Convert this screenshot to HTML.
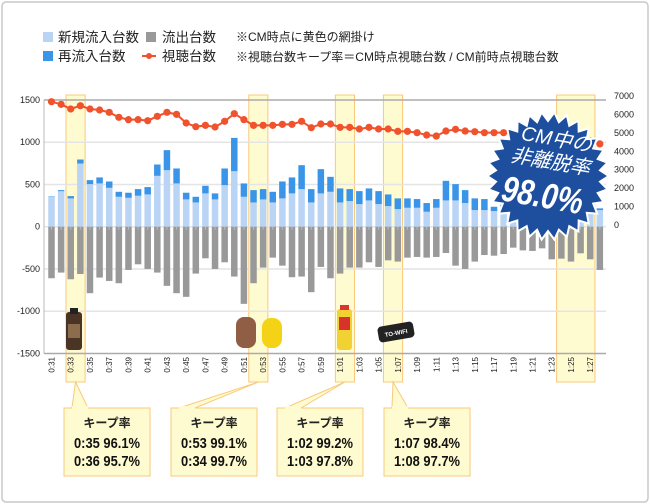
<!DOCTYPE html>
<html><head><meta charset="utf-8"><style>
body{margin:0;background:#fff;}
svg{display:block;font-family:"Liberation Sans","Noto Sans CJK JP",sans-serif;}
</style></head><body>
<svg id="c" width="650" height="504" viewBox="0 0 650 504" xmlns="http://www.w3.org/2000/svg">
<rect x="2" y="2" width="646" height="500" rx="4" fill="#fff" stroke="#c8c8c8" stroke-width="1.5"/>
<g font-size="13.5" fill="#222">
<rect x="43" y="32" width="10" height="10" fill="#b9d4f5"/>
<text x="58" y="42">新規流入台数</text>
<rect x="43" y="51" width="10" height="10" fill="#3a95e8"/>
<text x="58" y="61">再流入台数</text>
<rect x="146" y="32" width="10" height="10" fill="#999"/>
<text x="162" y="42">流出台数</text>
<line x1="142" y1="56" x2="156" y2="56" stroke="#f0522d" stroke-width="2"/>
<circle cx="149" cy="56" r="3" fill="#f0522d"/>
<text x="162" y="61">視聴台数</text>
<text x="236" y="41" font-size="12">※CM時点に黄色の網掛け</text>
<text x="236" y="61" font-size="12">※視聴台数キープ率＝CM時点視聴台数 / CM前時点視聴台数</text>
</g>
<g id="hl"></g>
<g id="grid"></g>
<g id="bars"></g>
<g id="line"></g>
<g id="axes"></g>
<g>
<rect x="66" y="312" width="16" height="38" rx="3" fill="#4a3426"/>
<rect x="70" y="308" width="8" height="6" fill="#222"/>
<rect x="68" y="324" width="12" height="14" fill="#8b6d4e"/>
<rect x="236" y="317" width="20" height="31" rx="8" fill="#8f5e44"/>
<rect x="262" y="318" width="20" height="30" rx="9" fill="#f4d316"/>
<rect x="337" y="309" width="15" height="41" rx="3" fill="#f2d232"/>
<rect x="339" y="317" width="11" height="13" fill="#d8322a"/>
<rect x="340" y="305" width="9" height="5" fill="#d33"/>
<g transform="rotate(-10 396 332)"><rect x="378" y="324" width="36" height="16" rx="4" fill="#222"/><text x="396" y="335" font-size="6" fill="#fff" text-anchor="middle" font-weight="bold">TO-WIFI</text></g>
</g>
<g id="callouts"></g>
<g>
<polygon id="star" fill="#1d4f9e" stroke="#fff" stroke-width="2"/>
<g transform="rotate(10 548 176)" fill="#fff" text-anchor="middle" font-style="italic">
<text x="550" y="145" font-size="20">CM中の</text>
<text x="548" y="168" font-size="20">非離脱率</text>
<text x="546" y="208" font-size="36" font-weight="bold" textLength="82" lengthAdjust="spacingAndGlyphs">98.0%</text>
</g>
</g>
</svg>
<script>
const times = ["0:31","0:32","0:33","0:34","0:35","0:36","0:37","0:38","0:39","0:40","0:41","0:42","0:43","0:44","0:45","0:46","0:47","0:48","0:49","0:50","0:51","0:52","0:53","0:54","0:55","0:56","0:57","0:58","0:59","1:00","1:01","1:02","1:03","1:04","1:05","1:06","1:07","1:08","1:09","1:10","1:11","1:12","1:13","1:14","1:15","1:16","1:17","1:18","1:19","1:20","1:21","1:22","1:23","1:24","1:25","1:26","1:27","1:28"];
const newInflow = [355,420,335,748,504,512,460,354,342,366,382,602,669,512,323,287,394,323,492,657,354,287,323,287,335,394,445,287,394,413,287,303,268,311,268,244,209,224,224,177,224,311,311,280,197,197,185,180,180,175,170,170,175,180,180,175,175,197];
const reInflow = [5,13,27,47,47,71,75,59,60,79,87,134,237,177,79,67,90,71,197,394,158,146,122,126,200,189,283,158,287,177,166,142,153,142,153,138,126,111,103,103,103,232,193,153,138,130,51,80,80,80,75,75,80,80,80,75,75,20];
const outflow = [-610,-543,-622,-560,-787,-602,-642,-669,-512,-445,-500,-543,-700,-787,-830,-555,-374,-500,-421,-590,-913,-669,-484,-366,-461,-598,-590,-775,-476,-610,-555,-484,-484,-421,-476,-398,-413,-366,-358,-366,-358,-311,-461,-500,-413,-335,-343,-323,-248,-280,-287,-256,-386,-378,-413,-315,-386,-512];
const viewers = [6690,6547,6294,6475,6294,6240,6113,5842,5716,5716,5661,5896,6113,6004,5534,5335,5407,5317,5625,6040,5716,5407,5407,5407,5462,5462,5625,5280,5480,5480,5298,5298,5208,5298,5208,5208,5081,5081,5009,4882,4828,5099,5190,5099,5063,5009,5009,5009,4950,4900,4850,4800,4750,4700,4650,4600,4550,4400];
const leftTicks = [1500,1000,500,0,-500,-1000,-1500];
const rightTicks = [7000,6000,5000,4000,3000,2000,1000,0];
const highlightRanges = [[2,3],[21,22],[30,31],[35,36],[53,56]];
const calloutTitle = "キープ率";
const calloutLines = [["0:35  96.1%","0:36  95.7%"],["0:53  99.1%","0:34  99.7%"],["1:02  99.2%","1:03  97.8%"],["1:07  98.4%","1:08  97.7%"]];

const NS="http://www.w3.org/2000/svg";
function mk(tag,attrs,parent,name){const e=document.createElementNS(NS,tag);for(const k in attrs)e.setAttribute(k,attrs[k]);


parent.appendChild(e);return e;}
const X0=51.5, DX=9.62, BW=6.5, L=44, R=606;
const x=i=>X0+i*DX;
const yL=v=>226.7-v*0.0845;
const yR=v=>225-v*0.01843;
const G=id=>document.getElementById(id);

highlightRanges.forEach((r,k)=>{
  mk('rect',{x:x(r[0])-BW/2-1.5,y:95,width:x(r[1])-x(r[0])+BW+3,height:287,fill:'#fffbd0',stroke:'#f9c97a','stroke-width':1},G('hl'),'cm-highlight-'+k);
});
leftTicks.forEach(v=>{
  const edge=(v===1500||v===-1500);
  mk('line',{x1:L,x2:R,y1:yL(v),y2:yL(v),stroke:edge?'#aaa':'#e4e4e4','stroke-width':1.5},G('grid'),'gridline-'+v);
  const t=mk('text',{x:40,y:yL(v)+3,'font-size':9,'text-anchor':'end',fill:'#222'},G('axes'),'left-tick-'+v);t.textContent=v;
});
rightTicks.forEach(v=>{
  const t=mk('text',{x:614,y:yR(v)+3,'font-size':9,fill:'#222'},G('axes'),'right-tick-'+v);t.textContent=v;
});
mk('line',{x1:L,x2:L,y1:yL(1500),y2:yL(-1500),stroke:'#bbb'},G('axes'),'left-axis');
times.forEach((t,i)=>{
  const cx=x(i);
  mk('rect',{x:cx-BW/2,y:yL(newInflow[i]),width:BW,height:yL(0)-yL(newInflow[i]),fill:'#b9d4f5'},G('bars'),'bar-new-'+t);
  mk('rect',{x:cx-BW/2,y:yL(newInflow[i]+reInflow[i]),width:BW,height:yL(newInflow[i])-yL(newInflow[i]+reInflow[i]),fill:'#3a95e8'},G('bars'),'bar-re-'+t);
  mk('rect',{x:cx-BW/2,y:yL(0),width:BW,height:yL(outflow[i])-yL(0),fill:'#999'},G('bars'),'bar-out-'+t);
  mk('line',{x1:cx,x2:cx,y1:yL(0),y2:yL(0)+3,stroke:'#bbb'},G('axes'),'tick-'+t);
  if(i%2===0){const tx=mk('text',{x:0,y:0,'font-size':8,fill:'#222','text-anchor':'end',transform:`translate(${cx+3},357) rotate(-90)`},G('axes'),'x-label-'+t);tx.textContent=t;}
});
let d='';
viewers.forEach((v,i)=>{d+=(i?'L':'M')+x(i)+','+yR(v);});
mk('path',{d:d,fill:'none',stroke:'#f0522d','stroke-width':2},G('line'),'viewers-path');
viewers.forEach((v,i)=>{mk('circle',{cx:x(i),cy:yR(v),r:3.6,fill:'#f0522d'},G('line'),'viewers-point-'+times[i]);});

const boxX=[64,171,277,384];
calloutLines.forEach((ls,k)=>{
  const hr=highlightRanges[k];
  const hx=(x(hr[0])+x(hr[1]))/2;
  const bx=boxX[k];
  mk('path',{d:`M${bx+8},408 L${hx},382 L${bx+24},408 Z`,fill:'#fffbd0',stroke:'#f9c97a'},G('callouts'),'callout-pointer-'+k);
  mk('rect',{x:bx,y:408,width:86,height:68,fill:'#fffbd0',stroke:'#f9c97a'},G('callouts'),'callout-box-'+k);
  mk('rect',{x:bx+8,y:406,width:16,height:4,fill:'#fffbd0'},G('callouts'),'callout-join-'+k);
  const t=mk('text',{x:bx+43,y:427,'font-size':12,'font-weight':'bold','text-anchor':'middle',fill:'#222'},G('callouts'),'callout-title-'+k);t.textContent=calloutTitle;
  ls.forEach((s,j)=>{const tt=mk('text',{x:bx+43,y:448+j*18,'font-size':15,'font-weight':'bold','text-anchor':'middle',fill:'#111','xml:space':'preserve',textLength:66,lengthAdjust:'spacingAndGlyphs'},G('callouts'),'callout-value-'+k+'-'+j);tt.textContent=s;});
});
let pts=[];const N=30,cx0=548,cy0=176;
for(let i=0;i<N*2;i++){const a=Math.PI*i/N;const r=i%2?55:64;pts.push((cx0+r*Math.cos(a)*0.95).toFixed(1)+','+(cy0+r*Math.sin(a)).toFixed(1));}
G('star').setAttribute('points',pts.join(' '));
</script>
</body></html>
